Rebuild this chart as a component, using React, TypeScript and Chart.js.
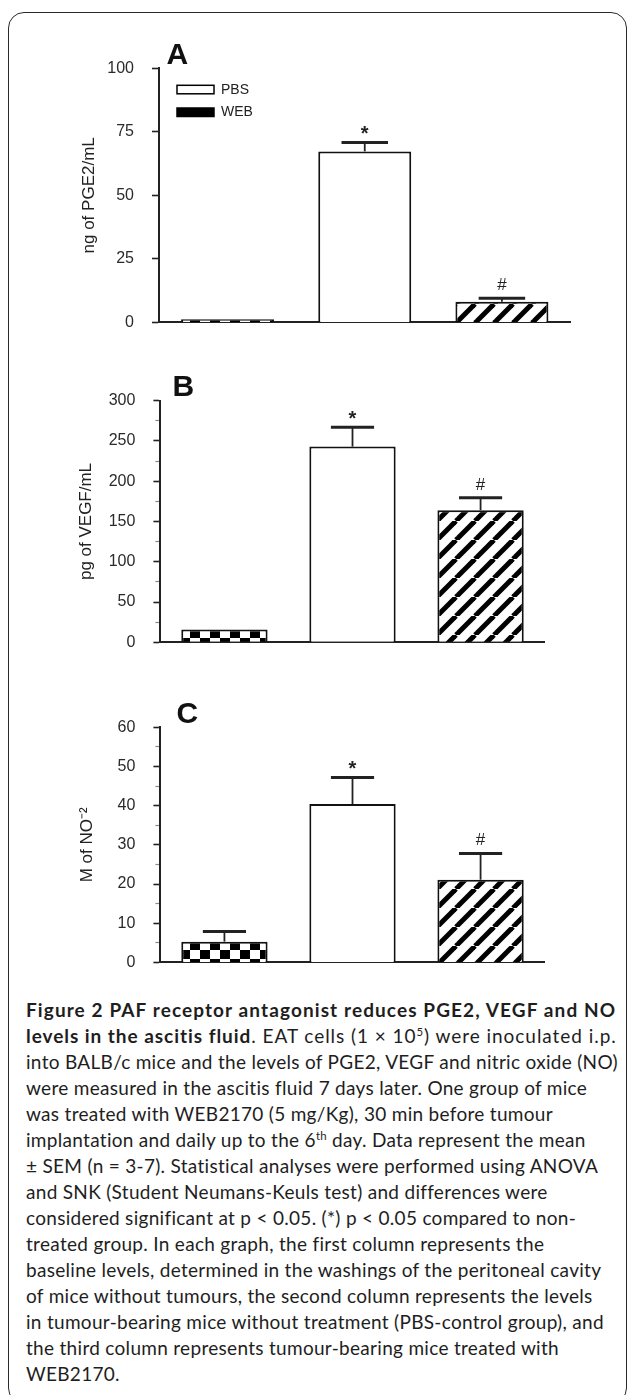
import React, { useEffect, useRef } from 'react';
import { Chart, registerables } from 'chart.js';

Chart.register(...registerables);

// ---------------- data ----------------
const categories = ['Baseline', 'PBS', 'WEB2170'];
const pge2Means = [1.2, 67.3, 8.1];
const pge2Sem = [0, 3.5, 1.4];
const vegfMeans = [16, 243, 164];
const vegfSem = [0, 24, 15.6];
const noMeans = [5.3, 40.4, 21.1];
const noSem = [2.6, 6.8, 6.7];
const significance = ['', '*', '#'];
const pge2Ticks = [0, 25, 50, 75, 100];
const vegfTicks = [0, 50, 100, 150, 200, 250, 300];
const noTicks = [0, 10, 20, 30, 40, 50, 60];
const legendLabels = ['PBS', 'WEB'];
const legendFills = ['#ffffff', '#000000'];

const FONT = "'Liberation Sans', Arial, Helvetica, sans-serif";
const INK = '#222222';

Chart.defaults.font.family = FONT;
Chart.defaults.color = INK;

function makeChecker(): CanvasPattern {
  const c = document.createElement('canvas');
  c.width = 20;
  c.height = 18;
  const g = c.getContext('2d') as CanvasRenderingContext2D;
  g.fillStyle = '#fff';
  g.fillRect(0, 0, 20, 18);
  g.fillStyle = '#000';
  g.fillRect(0, 0, 10, 9);
  g.fillRect(10, 9, 10, 9);
  return g.createPattern(c, 'repeat') as CanvasPattern;
}

function makeHatch(): CanvasPattern {
  const s = 19;
  const c = document.createElement('canvas');
  c.width = s;
  c.height = s;
  const g = c.getContext('2d') as CanvasRenderingContext2D;
  g.fillStyle = '#fff';
  g.fillRect(0, 0, s, s);
  g.strokeStyle = '#000';
  g.lineWidth = 5;
  for (const k of [-1, 0, 1]) {
    g.beginPath();
    g.moveTo(k * s, s);
    g.lineTo(k * s + s, 0);
    g.stroke();
  }
  return g.createPattern(c, 'repeat') as CanvasPattern;
}

const decorPlugin = {
  id: 'decor',
  afterDatasetsDraw(chart: any, _args: any, opts: any) {
    const ctx: CanvasRenderingContext2D = chart.ctx;
    const meta = chart.getDatasetMeta(0);
    const yScale = chart.scales.y;
    const values = chart.data.datasets[0].data as number[];
    const sem: number[] = opts.sem;
    const area = chart.chartArea;
    ctx.save();
    meta.data.forEach((bar: any, i: number) => {
      const v = values[i];
      const e = sem[i];
      const w = bar.width;
      let topY = bar.y;
      if (e > 0) {
        const capY = yScale.getPixelForValue(v + e);
        ctx.strokeStyle = INK;
        ctx.lineWidth = 1.8;
        ctx.beginPath();
        ctx.moveTo(bar.x, bar.y);
        ctx.lineTo(bar.x, capY);
        ctx.stroke();
        ctx.lineWidth = 3;
        ctx.beginPath();
        ctx.moveTo(bar.x - w / 4, capY);
        ctx.lineTo(bar.x + w / 4, capY);
        ctx.stroke();
        topY = capY;
      }
      const mark = significance[i];
      if (mark) {
        ctx.fillStyle = INK;
        ctx.font = mark === '*' ? `bold 20px ${FONT}` : `17px ${FONT}`;
        ctx.textAlign = 'center';
        ctx.textBaseline = 'alphabetic';
        const m = ctx.measureText(mark);
        const desc = m.actualBoundingBoxDescent || 0;
        ctx.fillText(mark, bar.x, topY - 8 - desc);
      }
    });

    if (opts.legend) {
      ctx.font = `14px ${FONT}`;
      ctx.textAlign = 'left';
      ctx.textBaseline = 'middle';
      legendLabels.forEach((lab, i) => {
        const bx = area.left + 18;
        const by = area.top + 17 + i * 22.7;
        ctx.fillStyle = legendFills[i];
        ctx.fillRect(bx, by, 37, 8.5);
        ctx.strokeStyle = '#000';
        ctx.lineWidth = 1.5;
        ctx.strokeRect(bx, by, 37, 8.5);
        ctx.fillStyle = INK;
        ctx.fillText(lab, bx + 44, by + 4.5);
      });
    }

    ctx.fillStyle = '#111';
    ctx.font = `bold 30px ${FONT}`;
    ctx.textAlign = 'left';
    ctx.textBaseline = 'alphabetic';
    ctx.fillText(opts.letter, area.left + opts.letterDx, area.top - 4.5);
    ctx.restore();
  },
};

type Panel = {
  means: number[];
  sem: number[];
  ticks: number[];
  minor: boolean;
  yTitle: string;
  letter: string;
  letterDx: number;
  padding: { left: number; right: number; top: number; bottom: number };
  yWidth: number;
  titlePad: number;
  barPct: number;
  legend: boolean;
  width: number;
  height: number;
  top: number;
};

const panels: Panel[] = [
  {
    means: pge2Means, sem: pge2Sem, ticks: pge2Ticks, minor: false,
    yTitle: 'ng of PGE2/mL', letter: 'A', letterDx: 7.5,
    padding: { left: 70, right: 58.5, top: 68.3, bottom: 23.3 }, yWidth: 89,
    titlePad: 9, barPct: 0.678, legend: true, width: 629, height: 350, top: 0,
  },
  {
    means: vegfMeans, sem: vegfSem, ticks: vegfTicks, minor: true,
    yTitle: 'pg of VEGF/mL', letter: 'B', letterDx: 12,
    padding: { left: 70, right: 84.4, top: 50.7, bottom: 37.7 }, yWidth: 90.4,
    titlePad: 6, barPct: 0.674, legend: false, width: 629, height: 330, top: 350,
  },
  {
    means: noMeans, sem: noSem, ticks: noTicks, minor: true,
    yTitle: 'M of NO\u207B\u00B2', letter: 'C', letterDx: 16,
    padding: { left: 70, right: 84.4, top: 47.3, bottom: 21.3 }, yWidth: 90.4,
    titlePad: 7, barPct: 0.674, legend: false, width: 629, height: 310, top: 680,
  },
];

function buildTickValues(majors: number[], minor: boolean): number[] {
  if (!minor) return majors.slice();
  const out: number[] = [];
  majors.forEach((v, i) => {
    out.push(v);
    if (i < majors.length - 1) out.push((v + majors[i + 1]) / 2);
  });
  return out;
}

function BarPanel({ p }: { p: Panel }) {
  const ref = useRef<HTMLCanvasElement | null>(null);
  useEffect(() => {
    if (!ref.current) return;
    const fills = [makeChecker(), '#ffffff', makeHatch()];
    const all = buildTickValues(p.ticks, p.minor);
    const isMajor = (v: number) => p.ticks.includes(v);
    const chart = new Chart(ref.current, {
      type: 'bar',
      data: {
        labels: categories,
        datasets: [
          {
            data: p.means,
            backgroundColor: fills as any,
            borderColor: '#111',
            borderWidth: 2,
            barPercentage: p.barPct,
            categoryPercentage: 1,
          },
        ],
      },
      options: {
        responsive: false,
        animation: false,
        devicePixelRatio: 1,
        layout: { padding: p.padding },
        plugins: {
          legend: { display: false },
          tooltip: { enabled: false },
          title: { display: false },
          decor: { sem: p.sem, legend: p.legend, letter: p.letter, letterDx: p.letterDx },
        } as any,
        scales: {
          x: {
            type: 'category',
            offset: true,
            grid: { display: false, drawTicks: false },
            ticks: { display: false },
            border: { display: true, color: INK, width: 2 },
            afterFit: (s: any) => { s.height = 0; },
          },
          y: {
            type: 'linear',
            min: p.ticks[0],
            max: p.ticks[p.ticks.length - 1],
            afterBuildTicks: (s: any) => { s.ticks = all.map((v) => ({ value: v })); },
            afterFit: (s: any) => { s.width = p.yWidth; },
            ticks: {
              autoSkip: false,
              padding: 18,
              color: '#2a2a2a',
              font: { size: 16 },
              callback: (v: any) => (isMajor(Number(v)) ? String(v) : ''),
            },
            grid: {
              drawOnChartArea: false,
              drawTicks: true,
              tickLength: 7,
              tickColor: (c: any) => (c.tick && !isMajor(c.tick.value) ? '#8a8a8a' : INK),
              tickWidth: (c: any) => (c.tick && !isMajor(c.tick.value) ? 1.2 : 1.6),
              tickBorderDash: (c: any) => (c.tick && !isMajor(c.tick.value) ? [4, 30] : []),
              tickBorderDashOffset: (c: any) => (c.tick && !isMajor(c.tick.value) ? 32 : 0),
            } as any,
            border: { display: true, color: INK, width: 2 },
            title: {
              display: true,
              text: p.yTitle,
              color: INK,
              font: { size: 17 },
              padding: { top: p.titlePad, bottom: 0 },
            },
          },
        },
      },
      plugins: [decorPlugin as any],
    });
    return () => chart.destroy();
  }, [p]);
  return (
    <canvas
      ref={ref}
      width={p.width}
      height={p.height}
      style={{ position: 'absolute', left: 0, top: p.top, width: p.width, height: p.height }}
    />
  );
}

const capFont = "Lato, 'Open Sans', 'Noto Sans', sans-serif";
const supStyle: React.CSSProperties = { fontSize: '0.6em', verticalAlign: 'super', lineHeight: 0 };
const boldStyle: React.CSSProperties = { fontWeight: 700, letterSpacing: '1.1px' };

const captionLines: React.ReactNode[] = [
  <span style={boldStyle}>Figure 2 PAF receptor antagonist reduces PGE2, VEGF and NO</span>,
  <span style={{ letterSpacing: '0.95px' }}>
    <span style={{ fontWeight: 700 }}>levels in the ascitis fluid</span>. EAT cells (1 × 10<sup style={supStyle}>5</sup>) were inoculated i.p.
  </span>,
  'into BALB/c mice and the levels of PGE2, VEGF and nitric oxide (NO)',
  'were measured in the ascitis fluid 7 days later. One group of mice',
  'was treated with WEB2170 (5 mg/Kg), 30 min before tumour',
  <>
    implantation and daily up to the 6<sup style={supStyle}>th</sup> day. Data represent the mean
  </>,
  '± SEM (n = 3-7). Statistical analyses were performed using ANOVA',
  'and SNK (Student Neumans-Keuls test) and differences were',
  'considered significant at p < 0.05. (*) p < 0.05 compared to non-',
  'treated group. In each graph, the first column represents the',
  'baseline levels, determined in the washings of the peritoneal cavity',
  'of mice without tumours, the second column represents the levels',
  'in tumour-bearing mice without treatment (PBS-control group), and',
  'the third column represents tumour-bearing mice treated with',
  'WEB2170.',
];

export default function App() {
  return (
    <div
      style={{
        position: 'absolute',
        left: 0,
        top: 0,
        width: 629,
        height: 1395,
        overflow: 'hidden',
        background: '#fff',
      }}
    >
      <div
        style={{
          position: 'absolute',
          left: 8,
          top: 12,
          width: 619,
          height: 1392,
          boxSizing: 'border-box',
          border: '1.6px solid #2a2a2a',
          borderRadius: 16,
        }}
      />
      {panels.map((p, i) => (
        <BarPanel key={i} p={p} />
      ))}
      {captionLines.map((line, i) => (
        <div
          key={i}
          style={{
            position: 'absolute',
            left: 26,
            top: 997 + i * 26,
            height: 26,
            lineHeight: '26px',
            fontFamily: capFont,
            fontSize: 19,
            letterSpacing: '0.3px',
            color: '#1e1e1e',
            whiteSpace: 'nowrap',
          }}
        >
          {line}
        </div>
      ))}
    </div>
  );
}
